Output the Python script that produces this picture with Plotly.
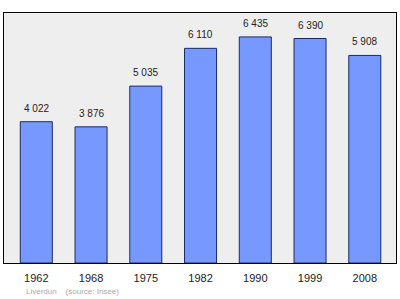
import plotly.graph_objects as go

years = ["1962", "1968", "1975", "1982", "1990", "1999", "2008"]
population = [4022, 3876, 5035, 6110, 6435, 6390, 5908]
labels = ["4 022", "3 876", "5 035", "6 110", "6 435", "6 390", "5 908"]

fig = go.Figure()
fig.add_trace(go.Bar(
    x=years, y=population,
    marker=dict(color="#7799ff", line=dict(color="#1a2a66", width=1)),
    width=0.585,
))
annotations = [
    dict(x=i, y=v, text=t, xref="x", yref="y", showarrow=False,
         yanchor="bottom", yshift=6,
         font=dict(family="Liberation Sans, Arial", size=10, color="#222222"))
    for i, (v, t) in enumerate(zip(population, labels))
]
annotations.append(dict(text="Liverdun &nbsp;&nbsp; (source: Insee)",
                        xref="paper", yref="paper", x=(24 - 4) / 392, y=-(291 - 263) / 250,
                        xanchor="left", yanchor="middle", showarrow=False,
                        font=dict(family="Liberation Sans, Arial", size=8, color="#aaaaaa")))
fig.update_layout(
    width=400, height=299,
    margin=dict(l=4, r=4, t=13, b=36),
    paper_bgcolor="white", plot_bgcolor="#eeeeee",
    showlegend=False,
    font=dict(family="Liberation Sans, Arial"),
    xaxis=dict(type="category", range=[-0.59, 6.57], showgrid=False,
               showline=True, linecolor="black", linewidth=1, mirror=True,
               ticks="", ticklabelstandoff=5, tickfont=dict(size=11, color="#222222")),
    yaxis=dict(range=[0, 7116], showgrid=False, showticklabels=False,
               showline=True, linecolor="black", linewidth=1, mirror=True,
               ticks="", zeroline=False),
    annotations=annotations,
)
fig.write_html("out.html")
